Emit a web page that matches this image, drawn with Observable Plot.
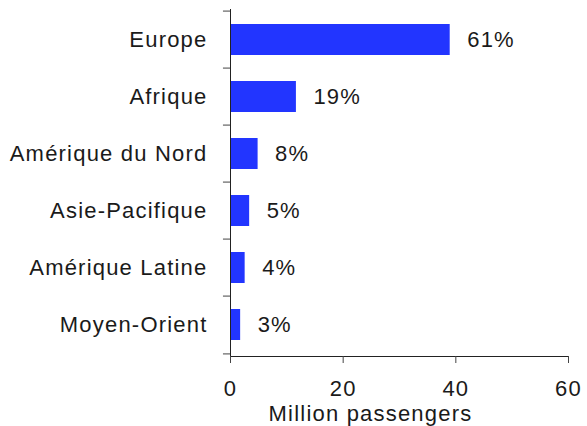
<!DOCTYPE html>
<html>
<head>
<meta charset="utf-8">
<script src="https://cdn.jsdelivr.net/npm/d3@7"></script>
<script src="https://cdn.jsdelivr.net/npm/@observablehq/plot@0.6"></script>
<style>
  html, body { margin: 0; padding: 0; background: #fff; }
  #chart svg { display: block; }
</style>
</head>
<body>
<div id="chart"></div>
<script>
const regions = ["Europe", "Afrique", "Amérique du Nord", "Asie-Pacifique", "Amérique Latine", "Moyen-Orient"];
const passengers = [39.0, 11.7, 4.9, 3.4, 2.6, 1.8];
const shares = ["61%", "19%", "8%", "5%", "4%", "3%"];
const xTicks = [0, 20, 40, 60];
const xTitle = "Million passengers";

const data = regions.map((r, i) => ({region: r, value: passengers[i], share: shares[i]}));

const H = 426, MT = 9, MB = 70;
const step = (H - MT - MB) / regions.length;

const chart = Plot.plot({
  width: 587,
  height: H,
  marginLeft: 230,
  marginRight: 19,
  marginTop: MT,
  marginBottom: MB,
  style: {fontFamily: "'Liberation Sans', Arial, sans-serif", fontSize: "22px", letterSpacing: "1.2px", color: "#1a1a1a", background: "#fff"},
  x: {domain: [0, 60], ticks: xTicks},
  y: {domain: regions, paddingInner: 0.45, paddingOuter: 0.225},
  marks: [
    Plot.barX(data, {x: "value", y: "region", fill: "#2235ff"}),
    Plot.text(data, {x: "value", y: "region", text: "share", textAnchor: "start", dx: 17, fill: "#1a1a1a", fontSize: 22}),
    Plot.frame({anchor: "left", stroke: "#222"}),
    Plot.frame({anchor: "bottom", stroke: "#222"}),
    Plot.ruleY(data, {y: "region", x1: -1.25, x2: 0, dy: -step / 2, stroke: "#444", clip: false}),
    Plot.ruleY([data[data.length - 1]], {y: "region", x1: -1.25, x2: 0, dy: step / 2, stroke: "#444", clip: false}),
    Plot.axisY({tickSize: 0, tickPadding: 23, fontSize: 22, label: null, fill: "#1a1a1a"}),
    Plot.axisX({ticks: xTicks, tickSize: 7, tickPadding: 17, fontSize: 22, label: null, stroke: "#444", fill: "#1a1a1a"}),
    Plot.text([xTitle], {frameAnchor: "bottom", dx: -29, dy: 49, lineAnchor: "top", textAnchor: "middle", fontSize: 22, fill: "#1a1a1a"})
  ]
});
document.getElementById("chart").append(chart);
</script>
</body>
</html>
